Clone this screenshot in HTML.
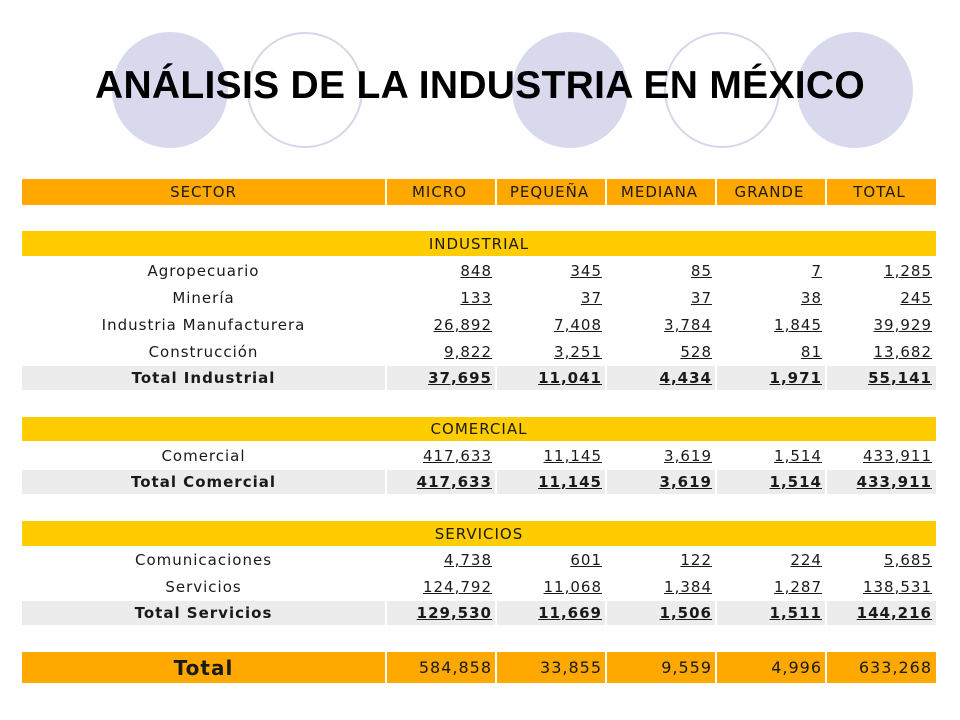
<!DOCTYPE html>
<html><head><meta charset="utf-8">
<style>
body{margin:0;width:960px;height:720px;background:#fff;position:relative;overflow:hidden;font-family:"DejaVu Sans","Liberation Sans",sans-serif;color:#1a1a1a;letter-spacing:1px}
.c{position:absolute;border-radius:50%;width:116px;height:116px}
.f{background:#d9d9ee}
.o{border:2px solid #d6d6ea;box-sizing:border-box;background:#fff}
h1{position:absolute;left:0;top:64px;width:960px;text-align:center;margin:0;font:bold 39px "Liberation Sans",sans-serif;color:#000;letter-spacing:0.3px}
.row{position:absolute;left:22px;width:914px;display:flex}
.row>div{box-sizing:border-box;text-align:right;padding-right:3px;font-size:15px;display:flex;align-items:center;justify-content:flex-end;border-left:2px solid #fff}
.row>div:first-child{justify-content:center;border-left:none;padding:0}
.w0{width:363px}.w{width:110px}
.u span{text-decoration:underline}
.hd{background:#ffa800}
.gr{background:#ececec;font-weight:bold}
.band{position:absolute;left:22px;width:914px;background:#ffcc00;font-size:15px;display:flex;align-items:center;justify-content:center}
</style></head><body>
<div class="c f" style="left:112px;top:32px"></div>
<div class="c o" style="left:247px;top:32px"></div>
<div class="c f" style="left:512px;top:32px"></div>
<div class="c o" style="left:664px;top:32px"></div>
<div class="c f" style="left:797px;top:32px"></div>
<h1>ANÁLISIS DE LA INDUSTRIA EN MÉXICO</h1>

<div class="row hd" style="top:179px;height:26px">
<div class="w0">SECTOR</div><div class="w" style="justify-content:center">MICRO</div><div class="w" style="justify-content:center">PEQUEÑA</div><div class="w" style="justify-content:center">MEDIANA</div><div class="w" style="justify-content:center">GRANDE</div><div class="w" style="justify-content:center">TOTAL</div></div>

<div class="band" style="top:231px;height:25px">INDUSTRIAL</div>
<div class="row u" style="top:258px;height:26px"><div class="w0">Agropecuario</div><div class="w"><span>848</span></div><div class="w"><span>345</span></div><div class="w"><span>85</span></div><div class="w"><span>7</span></div><div class="w"><span>1,285</span></div></div>
<div class="row u" style="top:285px;height:26px"><div class="w0">Minería</div><div class="w"><span>133</span></div><div class="w"><span>37</span></div><div class="w"><span>37</span></div><div class="w"><span>38</span></div><div class="w"><span>245</span></div></div>
<div class="row u" style="top:312px;height:26px"><div class="w0">Industria Manufacturera</div><div class="w"><span>26,892</span></div><div class="w"><span>7,408</span></div><div class="w"><span>3,784</span></div><div class="w"><span>1,845</span></div><div class="w"><span>39,929</span></div></div>
<div class="row u" style="top:339px;height:26px"><div class="w0">Construcción</div><div class="w"><span>9,822</span></div><div class="w"><span>3,251</span></div><div class="w"><span>528</span></div><div class="w"><span>81</span></div><div class="w"><span>13,682</span></div></div>
<div class="row u gr" style="top:366px;height:24px"><div class="w0">Total Industrial</div><div class="w"><span>37,695</span></div><div class="w"><span>11,041</span></div><div class="w"><span>4,434</span></div><div class="w"><span>1,971</span></div><div class="w"><span>55,141</span></div></div>

<div class="band" style="top:417px;height:24px">COMERCIAL</div>
<div class="row u" style="top:443px;height:26px"><div class="w0">Comercial</div><div class="w"><span>417,633</span></div><div class="w"><span>11,145</span></div><div class="w"><span>3,619</span></div><div class="w"><span>1,514</span></div><div class="w"><span>433,911</span></div></div>
<div class="row u gr" style="top:470px;height:24px"><div class="w0">Total Comercial</div><div class="w"><span>417,633</span></div><div class="w"><span>11,145</span></div><div class="w"><span>3,619</span></div><div class="w"><span>1,514</span></div><div class="w"><span>433,911</span></div></div>

<div class="band" style="top:521px;height:25px">SERVICIOS</div>
<div class="row u" style="top:547px;height:26px"><div class="w0">Comunicaciones</div><div class="w"><span>4,738</span></div><div class="w"><span>601</span></div><div class="w"><span>122</span></div><div class="w"><span>224</span></div><div class="w"><span>5,685</span></div></div>
<div class="row u" style="top:574px;height:26px"><div class="w0">Servicios</div><div class="w"><span>124,792</span></div><div class="w"><span>11,068</span></div><div class="w"><span>1,384</span></div><div class="w"><span>1,287</span></div><div class="w"><span>138,531</span></div></div>
<div class="row u gr" style="top:601px;height:24px"><div class="w0">Total Servicios</div><div class="w"><span>129,530</span></div><div class="w"><span>11,669</span></div><div class="w"><span>1,506</span></div><div class="w"><span>1,511</span></div><div class="w"><span>144,216</span></div></div>

<div class="row hd" style="top:652px;height:31px"><div class="w0" style="font-weight:bold;font-size:20px">Total</div><div class="w" style="font-size:16px">584,858</div><div class="w" style="font-size:16px">33,855</div><div class="w" style="font-size:16px">9,559</div><div class="w" style="font-size:16px">4,996</div><div class="w" style="font-size:16px">633,268</div></div>
</body></html>
